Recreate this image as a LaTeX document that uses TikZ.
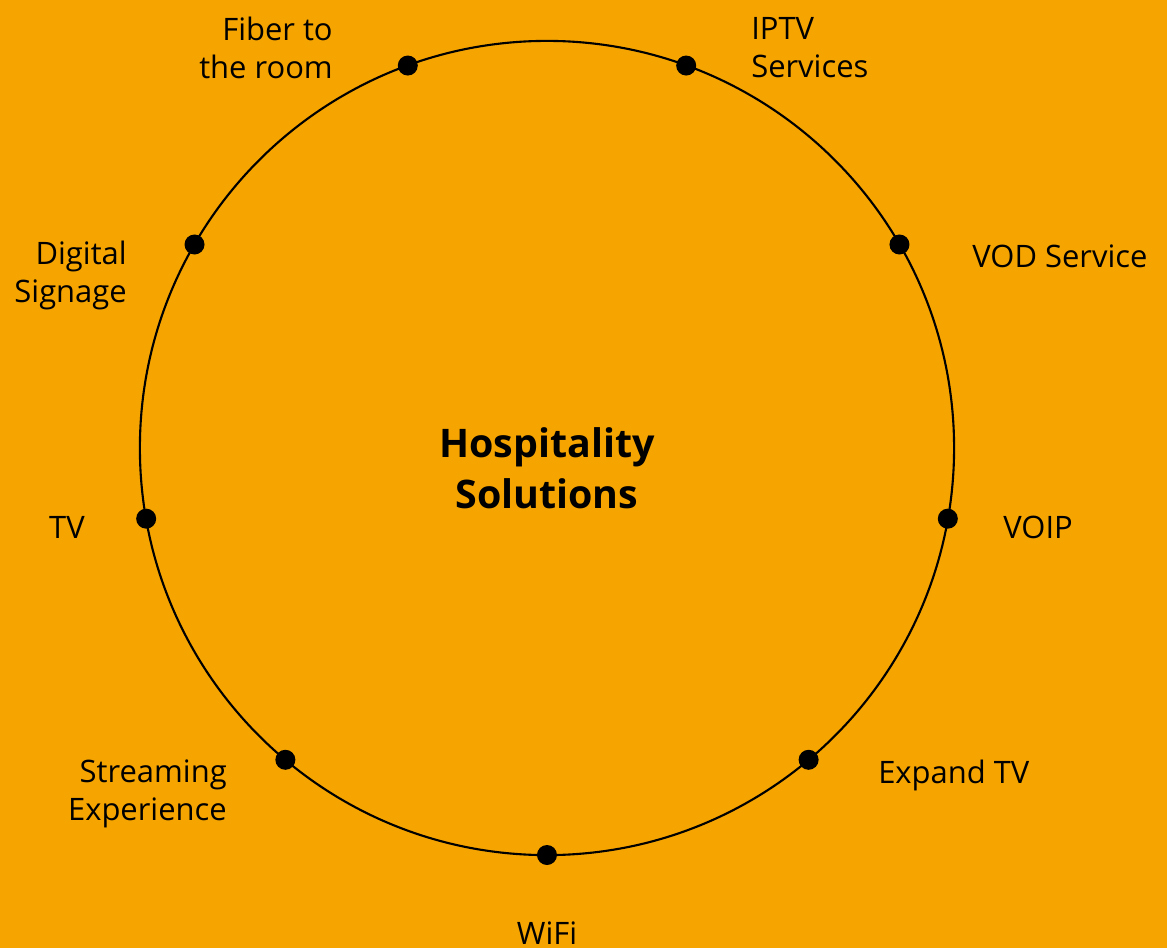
\documentclass[tikz,border=0pt]{standalone}
\usepackage{fontspec}
\setmainfont{Open Sans}
\definecolor{bgorange}{HTML}{F6A400}

\begin{document}
\begin{tikzpicture}[x=0.025cm, y=0.025cm]
    \tikzset{dot/.style={circle, fill=black, inner sep=0pt, minimum size=0.5cm},
             lbl/.style={inner sep=0pt, font=\fontsize{22}{27}\selectfont}}

    \fill[bgorange] (-547,448) rectangle (620,-500);
    \useasboundingbox (-547,448) rectangle (620,-500);

    \draw[line width=1.5pt] (0,0) circle[radius=10.175cm];
    \node[font=\fontsize{28}{36}\selectfont\bfseries, align=center] (c) at (0,-20) {Hospitality\\Solutions};

    \foreach \a in {110,70,30,-10,-50,-90,-130,-170,150}
        \node[dot] (d\a) at (\a:407) {};

    \node[lbl, anchor=east, align=right] (fiber) at (-214,400) {Fiber to\\the room};
    \node[lbl, anchor=west, align=left] (iptv) at (204,400) {IPTV\\Services};
    \node[lbl, anchor=west] (vod) at (425,192) {VOD Service};
    \node[lbl, anchor=west] (voip) at (456,-79) {VOIP};
    \node[lbl, anchor=west] (expand) at (331,-327) {Expand TV};
    \node[lbl] (wifi) at (0,-485) {WiFi};
    \node[lbl, anchor=east, align=right] (stream) at (-320,-346) {Streaming\\Experience};
    \node[lbl, anchor=east] (tv) at (-462,-79) {TV};
    \node[lbl, anchor=east, align=right] (signage) at (-420,173) {Digital\\Signage};
\end{tikzpicture}
\end{document}
